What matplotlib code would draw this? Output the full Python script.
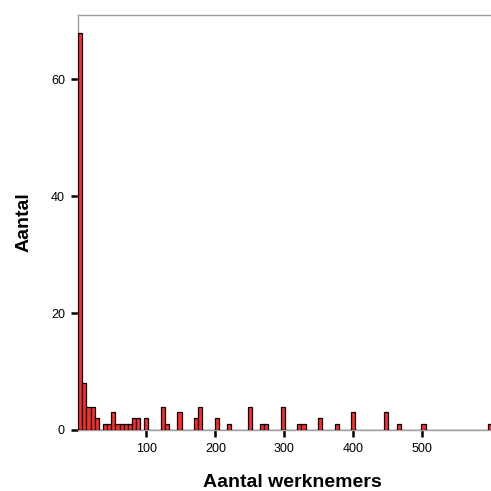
import numpy as np
import matplotlib
matplotlib.use('Agg')
import matplotlib.pyplot as plt

# histogram bins: start 1, width 6
bin_start = 1
bin_width = 6
n_bins = 100

# non-empty bins (bin index -> count)
bin_index = [0, 1, 2, 3, 4, 6, 7, 8, 9, 10, 11, 12, 13, 14, 16,
             20, 21, 24, 28, 29, 33, 36, 41, 44, 45, 49, 53, 54,
             58, 62, 66, 74, 77, 83, 99]
bin_count = [68, 8, 4, 4, 2, 1, 1, 3, 1, 1, 1, 1, 2, 2, 2,
             4, 1, 3, 2, 4, 2, 1, 4, 1, 1, 4, 1, 1,
             2, 1, 3, 3, 1, 1, 1]

x_ticks = [100, 200, 300, 400, 500]
y_ticks = [0, 20, 40, 60]

plt.rcParams['font.family'] = ['Liberation Sans', 'DejaVu Sans']

counts = np.zeros(n_bins)
counts[bin_index] = bin_count
edges = bin_start + bin_width * np.arange(n_bins)

fig = plt.figure(figsize=(4.91, 4.91), dpi=100)
ax = fig.add_axes([77.5 / 491, 61 / 491, 413.5 / 491, 415 / 491])

ax.bar(edges, counts, width=bin_width, align='edge',
       color='#ff2b2b', edgecolor='black', linewidth=0.9, zorder=3)

ax.set_xlim(0, 600)
ax.set_ylim(0, 71)
ax.set_xticks(x_ticks)
ax.set_yticks(y_ticks)

for side in ['left', 'top', 'bottom']:
    ax.spines[side].set_color('#a0a0a0')
    ax.spines[side].set_linewidth(1.0)
ax.spines['right'].set_visible(False)

ax.tick_params(axis='both', direction='out', length=5, width=1.8,
               color='black', labelsize=9, pad=4)

ax.set_xlabel('Aantal werknemers', fontsize=14, fontweight='bold', labelpad=14)
ax.set_ylabel('Aantal', fontsize=14, fontweight='bold', labelpad=13)
ax.xaxis.label.set_x(0.52)

fig.savefig('out.png', dpi=100)
